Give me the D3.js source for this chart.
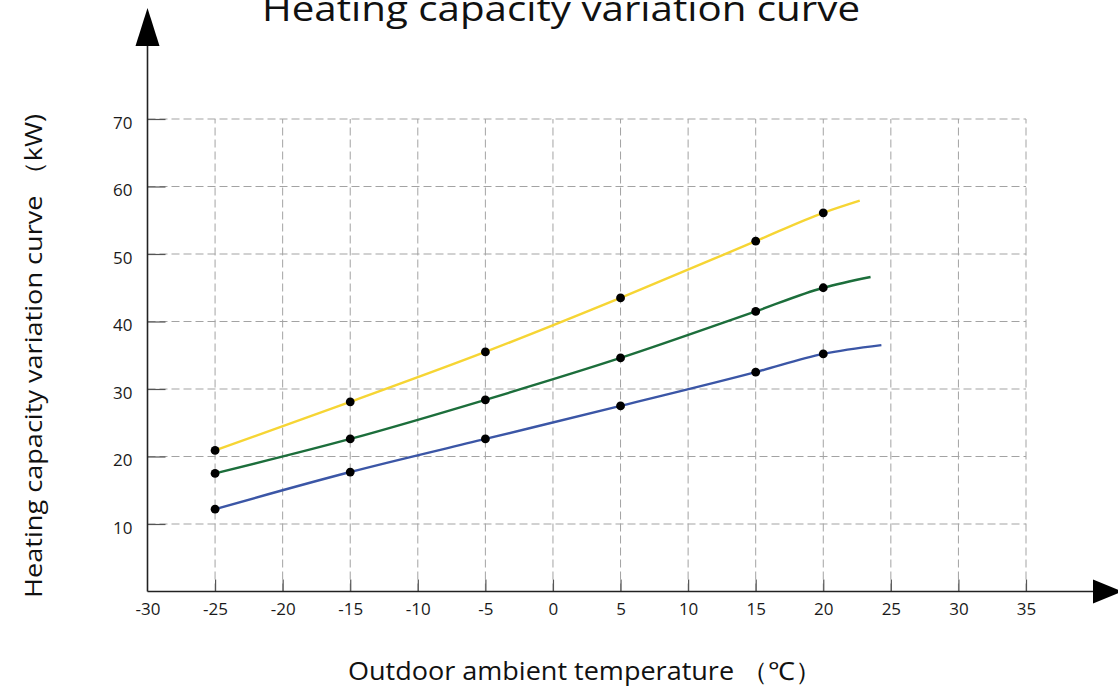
<!DOCTYPE html>
<html>
<head>
<meta charset="utf-8">
<script src="https://cdn.jsdelivr.net/npm/d3@7"></script>
<style>
  html, body { margin: 0; padding: 0; background: #fff; }
  svg { display: block; }
  text { font-family: "Open Sans", "Noto Sans", sans-serif; }
</style>
</head>
<body>
<svg id="chart" width="1118" height="689"></svg>
<script>
// ---- data ----
const titleText = "Heating capacity variation curve";
const yTitle = "Heating capacity variation curve \uFF08kW)";
const xTitle = "Outdoor ambient temperature \uFF08\u2103\uFF09";

const xTicks = [-30, -25, -20, -15, -10, -5, 0, 5, 10, 15, 20, 25, 30, 35];
const yTicks = [10, 20, 30, 40, 50, 60, 70];

const temps = [-25, -15, -5, 5, 15, 20];
const yellowValues = [20.9, 28.1, 35.5, 43.5, 51.9, 56.1];
const greenValues  = [17.5, 22.6, 28.4, 34.6, 41.5, 45.0];
const blueValues   = [12.2, 17.7, 22.6, 27.5, 32.5, 35.2];
// end of each drawn curve (no marker)
const yellowEnd = [22.7, 57.9];
const greenEnd  = [23.5, 46.6];
const blueEnd   = [24.3, 36.5];

const seriesColors = ["#f6d534", "#1c6e3b", "#3b56a6"];

// ---- drawing ----
const svg = d3.select("#chart");
const x = d3.scaleLinear().domain([-30, 35]).range([147.5, 1026]);
const y = d3.scaleLinear().domain([0, 70]).range([591.5, 119]);

// grid
const grid = svg.append("g").attr("stroke", "#a3a3a3").attr("stroke-width", 1)
  .attr("stroke-dasharray", "8,4").attr("fill", "none");
grid.selectAll("line.v").data(xTicks.filter(d => d > -30)).join("line")
  .attr("class", "v")
  .attr("x1", d => x(d)).attr("x2", d => x(d))
  .attr("y1", y(0)).attr("y2", y(70));
grid.selectAll("line.h").data(yTicks).join("line")
  .attr("class", "h")
  .attr("x1", x(-30)).attr("x2", x(35))
  .attr("y1", d => y(d)).attr("y2", d => y(d));

// axes (ticks inside)
const xAxis = d3.axisBottom(x).tickValues(xTicks).tickSizeInner(-12).tickSizeOuter(0)
  .tickPadding(11).tickFormat(d => String(d));
const gx = svg.append("g").attr("transform", `translate(0,${y(0)})`).call(xAxis);
gx.select(".domain").remove();
gx.selectAll(".tick line").attr("stroke", "#555").attr("stroke-width", 1.2);
gx.selectAll(".tick").filter(d => d === -30).select("line").remove();
gx.selectAll(".tick text").attr("font-size", 17).attr("fill", "#1a1a1a")
  .attr("font-family", "'Open Sans', 'Noto Sans', sans-serif");

const yAxis = d3.axisLeft(y).tickValues(yTicks).tickSizeInner(-18).tickSizeOuter(0)
  .tickPadding(15);
const gy = svg.append("g").attr("transform", `translate(${x(-30)},0)`).call(yAxis);
gy.select(".domain").remove();
gy.selectAll(".tick line").attr("stroke", "#555").attr("stroke-width", 1.2);
gy.selectAll(".tick text").attr("font-size", 17).attr("fill", "#1a1a1a")
  .attr("dy", "0.55em").attr("x", -15)
  .attr("font-family", "'Open Sans', 'Noto Sans', sans-serif");

// axis lines with arrows
const x0 = x(-30), y0 = y(0);
svg.append("line").attr("x1", x0).attr("x2", 1095).attr("y1", y0).attr("y2", y0)
  .attr("stroke", "#222").attr("stroke-width", 1.6);
svg.append("line").attr("x1", x0).attr("x2", x0).attr("y1", y0).attr("y2", 44)
  .attr("stroke", "#222").attr("stroke-width", 1.6);
svg.append("path").attr("d", `M${x0},8 L${x0 - 12},46 L${x0 + 12},46 Z`).attr("fill", "#000");
svg.append("path").attr("d", `M1122,${y0} L1093,${y0 - 12} L1093,${y0 + 12} Z`).attr("fill", "#000");

// curves
const series = [
  { values: yellowValues, end: yellowEnd, color: seriesColors[0] },
  { values: greenValues,  end: greenEnd,  color: seriesColors[1] },
  { values: blueValues,   end: blueEnd,   color: seriesColors[2] }
];
const line = d3.line().x(d => x(d[0])).y(d => y(d[1])).curve(d3.curveMonotoneX);
series.forEach(s => {
  const pts = temps.map((t, i) => [t, s.values[i]]).concat([s.end]);
  svg.append("path").datum(pts).attr("d", line)
    .attr("fill", "none").attr("stroke", s.color).attr("stroke-width", 2.4);
});
series.forEach(s => {
  svg.append("g").selectAll("circle").data(temps.map((t, i) => [t, s.values[i]])).join("circle")
    .attr("cx", d => x(d[0])).attr("cy", d => y(d[1])).attr("r", 4.4).attr("fill", "#000");
});

// titles
svg.append("text").attr("x", 561).attr("y", 21).attr("text-anchor", "middle")
  .attr("font-size", 34).attr("fill", "#111")
  .attr("textLength", 598).attr("lengthAdjust", "spacingAndGlyphs")
  .text(titleText);
svg.append("text").attr("transform", "translate(42,356) rotate(-90)")
  .attr("text-anchor", "middle").attr("font-size", 24).attr("fill", "#111")
  .attr("textLength", 484).attr("lengthAdjust", "spacingAndGlyphs")
  .text(yTitle);
svg.append("text").attr("x", 585).attr("y", 680).attr("text-anchor", "middle")
  .attr("font-size", 25).attr("fill", "#111")
  .attr("textLength", 474).attr("lengthAdjust", "spacingAndGlyphs")
  .text(xTitle);
</script>
</body>
</html>
